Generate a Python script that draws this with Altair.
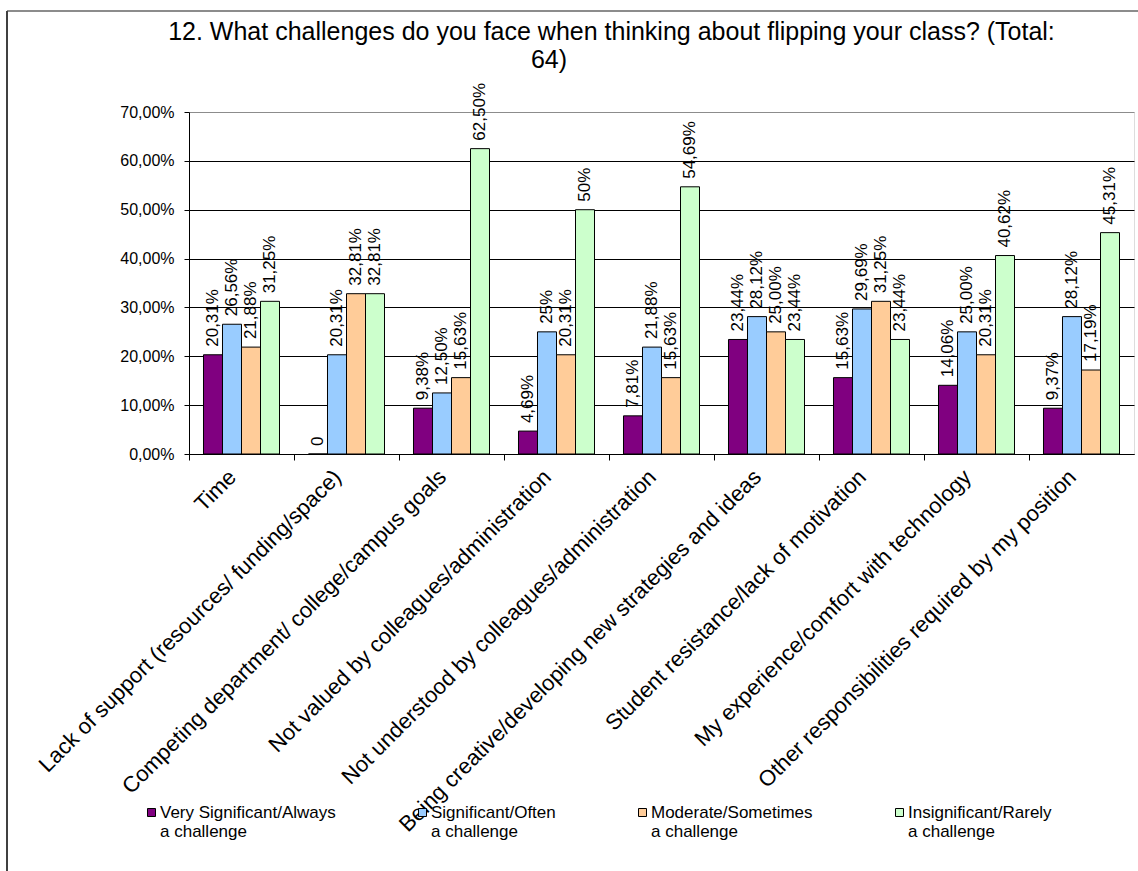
import altair as alt
import pandas as pd

FONT = "Liberation Sans"

categories = [
    "Time",
    "Lack of support (resources/ funding/space)",
    "Competing department/ college/campus goals",
    "Not valued by colleagues/administration",
    "Not understood by colleagues/administration",
    "Being creative/developing new strategies and ideas",
    "Student resistance/lack of motivation",
    "My experience/comfort with technology",
    "Other responsibilities required by my position",
]

series = [
    "Very Significant/Always\na challenge",
    "Significant/Often\na challenge",
    "Moderate/Sometimes\na challenge",
    "Insignificant/Rarely\na challenge",
]
colors = ["#800080", "#99CCFF", "#FFCC99", "#CCFFCC"]

# percentages per answer, one value per challenge
very_significant = [20.31, 0, 9.38, 4.69, 7.81, 23.44, 15.63, 14.06, 9.37]
significant = [26.56, 20.31, 12.50, 25.00, 21.88, 28.12, 29.69, 25.00, 28.12]
moderate = [21.88, 32.81, 15.63, 20.31, 15.63, 25.00, 31.25, 20.31, 17.19]
insignificant = [31.25, 32.81, 62.50, 50.00, 54.69, 23.44, 23.44, 40.62, 45.31]

# value labels as printed above the bars
very_significant_lbl = ["20,31%", "0", "9,38%", "4,69%", "7,81%", "23,44%", "15,63%", "14,06%", "9,37%"]
significant_lbl = ["26,56%", "20,31%", "12,50%", "25%", "21,88%", "28,12%", "29,69%", "25,00%", "28,12%"]
moderate_lbl = ["21,88%", "32,81%", "15,63%", "20,31%", "15,63%", "25,00%", "31,25%", "20,31%", "17,19%"]
insignificant_lbl = ["31,25%", "32,81%", "62,50%", "50%", "54,69%", "23,44%", "23,44%", "40,62%", "45,31%"]

y_ticks = [0, 10, 20, 30, 40, 50, 60, 70]

rows = []
for s, vals, lbls in zip(
    series,
    [very_significant, significant, moderate, insignificant],
    [very_significant_lbl, significant_lbl, moderate_lbl, insignificant_lbl],
):
    for c, v, l in zip(categories, vals, lbls):
        rows.append({"category": c, "series": s, "value": v, "label": l})
df = pd.DataFrame(rows)

x_enc = alt.X(
    "category:N",
    sort=categories,
    title=None,
    scale=alt.Scale(paddingInner=0.276, paddingOuter=0.138),
    axis=alt.Axis(
        labelAngle=315,
        labelAlign="right",
        labelBaseline="top",
        labelFontSize=22,
        labelFont=FONT,
        labelColor="black",
        labelLimit=1000,
        labelPadding=6,
        labelOffset=-16,
        bandPosition=-0.19,
        tickSize=6,
        tickColor="black",
        domainColor="black",
        grid=False,
    ),
)
y_enc = alt.Y(
    "value:Q",
    title=None,
    scale=alt.Scale(domain=[0, 70], nice=False),
    axis=alt.Axis(
        values=y_ticks,
        labelExpr="replace(format(datum.value, '.2f'), '.', ',') + '%'",
        labelFontSize=16,
        labelFont=FONT,
        labelColor="black",
        labelPadding=10,
        tickSize=5,
        tickColor="black",
        domainColor="black",
        gridColor={"condition": {"test": "datum.value >= 70", "value": "#8c8c8c"}, "value": "black"},
        gridWidth=1,
    ),
)
xoff = alt.XOffset("series:N", sort=series, scale=alt.Scale(paddingInner=0, paddingOuter=0))

bars = alt.Chart(df).mark_bar(stroke="black", strokeWidth=1).encode(
    x=x_enc,
    y=y_enc,
    xOffset=xoff,
    color=alt.Color(
        "series:N",
        scale=alt.Scale(domain=series, range=colors),
        title=None,
        legend=alt.Legend(
            orient="none",
            legendX=-46,
            legendY=692,
            direction="horizontal",
            columns=4,
            gridAlign="none",
            columnPadding=78,
            padding=0,
            symbolType="square",
            symbolSize=64,
            symbolStrokeColor="black",
            symbolStrokeWidth=1,
            labelExpr="split(datum.label, '\\n')",
            labelFontSize=17,
            labelFont=FONT,
            labelColor="black",
            labelLimit=1000,
            labelOffset=0,
        ),
    ),
)

labels = alt.Chart(df).mark_text(
    angle=270, align="left", baseline="middle", dx=8, fontSize=17, font=FONT, color="black"
).encode(x=x_enc, y=y_enc, xOffset=xoff, text="label:N")

one = pd.DataFrame({"k": [0]})
frame_top = alt.Chart(one).mark_rule(color="#8c8c8c", strokeWidth=2).encode(
    x=alt.value(-182), x2=alt.value(960), y=alt.value(-101)
)
frame_left = alt.Chart(one).mark_rule(color="#404040", strokeWidth=2).encode(
    x=alt.value(-182), y=alt.value(-101), y2=alt.value(770)
)

title_lines = [
    "12. What challenges do you face when thinking about flipping your class? (Total:",
    "64)" + "\u00a0" * 18 + "\u200b",
]

chart = (
    alt.layer(frame_top, frame_left, bars, labels)
    .properties(
        width=945,
        height=342,
        autosize=alt.AutoSizeParams(type="none"),
        padding={"left": 189, "top": 112, "right": 4, "bottom": 417},
        title=alt.TitleParams(
            text=title_lines,
            fontSize=25,
            font=FONT,
            fontWeight="normal",
            color="black",
            anchor="middle",
            frame="group",
            dx=-50,
            offset=-63,
            lineHeight=28,
        ),
    )
    .configure_view(stroke=None)
    .configure(background="white")
)

chart.save("out.html", embed_options={"renderer": "svg", "actions": False})
